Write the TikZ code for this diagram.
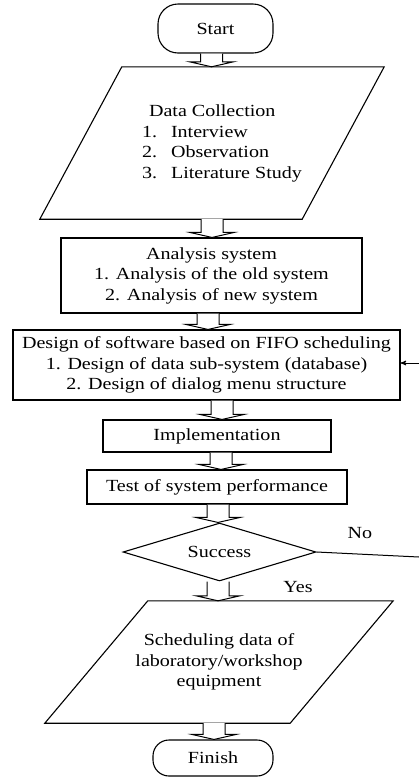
\documentclass[tikz,border=0pt]{standalone}
\usepackage{fontspec}
\setmainfont{Liberation Serif}[FakeStretch=1.18]
\usepackage{tikz}
\usetikzlibrary{shapes,calc}
\usetikzlibrary{arrows}
\tikzset{box/.style={rectangle,draw,line width=1.1pt,align=center,inner sep=2pt},
         term/.style={rectangle,draw,line width=1.1pt,align=center},
         decision/.style={diamond,draw,line width=1.1pt,aspect=3.3,inner sep=1pt},
         frame/.style={rectangle,inner sep=0pt,align=center},
         slant/.style={line width=1.1pt},
         blk/.style={draw,line width=1pt,fill=white,line join=miter},
         edge/.style={->,>=stealth',line width=1pt},
         line/.style={line width=1pt}
}
% hollow block arrow: x centre, from node, to node
\newcommand{\flowto}[3]{%
  \draw[blk] let \p1=(#2.south), \p2=(#3.north) in
    (#1pt-11pt,\y1) -- (#1pt-11pt,\y2+5pt) -- (#1pt-22pt,\y2+5pt) -- (#1pt,\y2)
    -- (#1pt+22pt,\y2+5pt) -- (#1pt+11pt,\y2+5pt) -- (#1pt+11pt,\y1);}

\begin{document}
\begin{tikzpicture}[x=1pt,y=-1pt,font=\fontsize{17}{20.5}\selectfont]
      \useasboundingbox (0,0) rectangle (419,780);
      \node[term, rounded corners=20pt, minimum width=115pt, minimum height=49pt] (start) at (215.5,28.5) {Start};
      % input blocks: parallelogram drawn round an empty frame
      \node[frame, minimum width=262pt, minimum height=152pt] (collect) at (212,143) {};
      \draw[slant] ([xshift=41pt]collect.north west) -- ([xshift=41pt]collect.north east)
         -- ([xshift=-41pt]collect.south east) -- ([xshift=-41pt]collect.south west) -- cycle;
      \node[align=left] (collecttxt) at (222,143.5) {\hspace*{7pt}Data Collection\\
         \makebox[29pt][l]{1.}Interview\\
         \makebox[29pt][l]{2.}Observation\\
         \makebox[29pt][l]{3.}Literature Study};
      \node[box, minimum width=301pt, minimum height=75pt] (analysis) at (211.5,275.5)
         {Analysis system\\1. Analysis of the old system\\2. Analysis of new system};
      \node[box, minimum width=387pt, minimum height=70pt] (design) at (206.5,365)
         {Design of software based on FIFO scheduling\\1. Design of data sub-system (database)\\2. Design of dialog menu structure};
      \node[box, minimum width=228pt, minimum height=32pt] (impl) at (217,436) {Implementation};
      \node[box, minimum width=260pt, minimum height=34pt] (test) at (217,487) {Test of system performance};
      \node[decision, minimum width=193pt, minimum height=58pt] (success) at (219.5,552) {Success};
      \node[frame, minimum width=245pt, minimum height=122pt] (sched) at (219,662)
         {Scheduling data of\\laboratory/workshop\\equipment};
      \draw[slant] ([xshift=51.5pt]sched.north west) -- ([xshift=51.5pt]sched.north east)
         -- ([xshift=-51.5pt]sched.south east) -- ([xshift=-51.5pt]sched.south west) -- cycle;
      \node[term, rounded corners=16pt, minimum width=120pt, minimum height=36pt] (finish) at (213,758) {Finish};

      \flowto{211.5}{start}{collect}
      \flowto{212}{collect}{analysis}
      \flowto{208}{analysis}{design}
      \flowto{222}{design}{impl}
      \flowto{221}{impl}{test}
      \flowto{218}{test}{success}
      \flowto{218}{success}{sched}
      \flowto{214}{sched}{finish}

      % loop back on failure
      \coordinate (loopout) at (419,557);
      \coordinate (loopin) at (419,363);
      \draw[line] (success.east) -- (loopout);
      \draw[edge] (loopin) -- (loopin -| design.east);
      \node (no) at (360,533) {No};
      \node (yes) at (298,587) {Yes};
\end{tikzpicture}
\end{document}
